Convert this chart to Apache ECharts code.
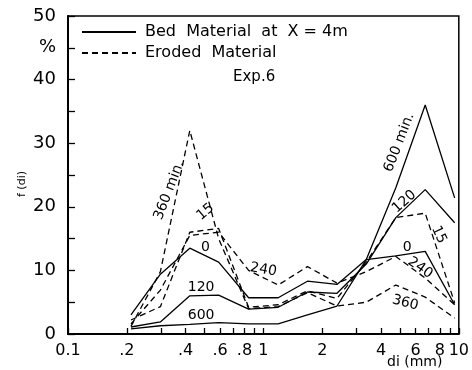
<!DOCTYPE html>
<html><head><meta charset="utf-8">
<script src="https://cdn.jsdelivr.net/npm/echarts@6/dist/echarts.min.js"></script>
<style>html,body{margin:0;padding:0;background:#fff}#c{width:472px;height:370px}</style>
</head><body><div id="c"></div>
<script>
// Grain size classes (mm)
const di = [0.21, 0.297, 0.42, 0.59, 0.84, 1.19, 1.68, 2.38, 3.36, 4.76, 6.73, 9.52];
// Bed material at X = 4m (solid)
const bed0   = [3.0, 9.4, 13.5, 11.3, 5.7, 5.7, 8.3, 7.8, 11.7, 12.3, 13.0, 4.6];
const bed120 = [1.1, 1.9, 6.0, 6.1, 3.9, 4.2, 6.6, 6.4, 11.0, 18.3, 22.7, 17.5];
const bed600 = [0.8, 1.3, 1.5, 1.8, 1.6, 1.6, 3.0, 4.4, 11.7, 23.0, 36.0, 21.4];
// Eroded material (dashed)
const ero15  = [2.2, 4.3, 16.0, 16.6, 4.2, 4.6, 6.8, 5.6, 11.3, 18.3, 19.0, 4.9];
const ero240 = [1.6, 6.9, 15.5, 16.0, 10.0, 7.7, 10.6, 8.0, 9.8, 12.2, 8.8, 4.6];
const ero360 = [1.2, 9.8, 32.0, 15.0, 4.0, 4.3, 6.5, 4.4, 5.0, 7.7, 5.8, 2.5];
// Axis ticks and labels
const xTicks = [0.1,0.2,0.3,0.4,0.5,0.6,0.7,0.8,0.9,1,2,3,4,5,6,7,8,9,10];
const xLabels = [0.1,0.2,0.4,0.6,0.8,1,2,4,6,8,10];
const xLabelText = ['0.1','.2','.4','.6','.8','1','2','4','6','8','10'];

const pts = ys => di.map((x,i)=>[x, ys[i]]);
const solid = {color:'#000', width:1.3, type:'solid'};
const dashed = {color:'#000', width:1.3, type:[6,4]};

function mk(name, ys, ls){
  return {type:'line', name:name, data:pts(ys), symbol:'none', symbolSize:0, showSymbol:false,
    itemStyle:{color:'#000', opacity:0}, lineStyle:ls, silent:true, animation:false, z:3};
}
const ann = (text, x, y, rot) => ({coord:[x,y], value:text, label:{rotate:rot}});
const annotations = [
  ann('360 min.', 0.33, 22.6, 69),
  ann('15', 0.505, 19.2, 40),
  ann('0', 0.505, 13.6, 0),
  ann('120', 0.48, 7.4, 0),
  ann('600', 0.48, 3.0, 0),
  ann('240', 1.0, 10.1, -10),
  ann('600 min.', 4.96, 30.1, 69),
  ann('120', 5.26, 20.8, 42),
  ann('15', 7.9, 15.6, -65),
  ann('0', 5.45, 13.7, 0),
  ann('240', 6.34, 10.4, -35),
  ann('360', 5.32, 4.9, -15)
];

const chart = echarts.init(document.getElementById('c'));
const font = 'DejaVu Sans';
chart.setOption({
  animation:false,
  backgroundColor:'#fff',
  grid:{left:68, right:10, top:16, bottom:36, show:true, borderColor:'#000', borderWidth:1.5, backgroundColor:'transparent'},
  legend:{
    orient:'vertical', left:76, top:19, itemGap:5, itemWidth:54, itemHeight:12,
    data:['Bed  Material  at  X = 4m','Eroded  Material'],
    itemStyle:{opacity:0},
    textStyle:{fontFamily:font, fontSize:16, color:'#000', padding:[0,0,0,4]}, selectedMode:false
  },
  xAxis:{
    type:'log', logBase:10, min:0.1, max:10,
    axisLine:{lineStyle:{color:'#000', width:2}},
    axisTick:{inside:true, length:6, lineStyle:{color:'#000', width:1.3}, customValues:xTicks},
    axisLabel:{customValues:xLabels, color:'#000', fontFamily:font, fontSize:16, margin:9,
      formatter:v=>{const i=xLabels.findIndex(t=>Math.abs(t-v)<1e-6); return i>=0?xLabelText[i]:'';}},
    splitLine:{show:false}, minorTick:{show:false}
  },
  yAxis:{
    type:'value', min:0, max:50, interval:5,
    axisLine:{show:true, lineStyle:{color:'#000', width:2}},
    axisTick:{inside:true, length:7, lineStyle:{color:'#000', width:1.3}},
    axisLabel:{color:'#000', fontFamily:font, fontSize:18, margin:12,
      formatter:v=> v===45 ? '%' : (v%10===0 ? String(v) : '')},
    splitLine:{show:false}
  },
  graphic:[
    {type:'text', left:233, top:70, style:{text:'Exp.6', font:'15px "DejaVu Sans"', fill:'#000'}},
    {type:'text', left:387, top:355, style:{text:'di (mm)', font:'14px "DejaVu Sans"', fill:'#000'}},
    {type:'text', x:22, y:184, rotation:Math.PI/2, style:{text:'f (di)', font:'11px "DejaVu Sans"', fill:'#000', align:'center', verticalAlign:'middle'}}
  ],
  series:[
    mk('Bed  Material  at  X = 4m', [], solid),
    mk('Eroded  Material', [], dashed),
    mk('bed0', bed0, solid),
    mk('bed120', bed120, solid),
    mk('bed600', bed600, solid),
    mk('ero15', ero15, dashed),
    mk('ero240', ero240, dashed),
    Object.assign(mk('ero360', ero360, dashed), {
      markPoint:{symbol:'circle', symbolSize:0, silent:true, animation:false,
        label:{show:true, position:'inside', color:'#000', fontFamily:font, fontSize:14, formatter:p=>p.value},
        data:annotations}
    })
  ]
});
</script></body></html>
